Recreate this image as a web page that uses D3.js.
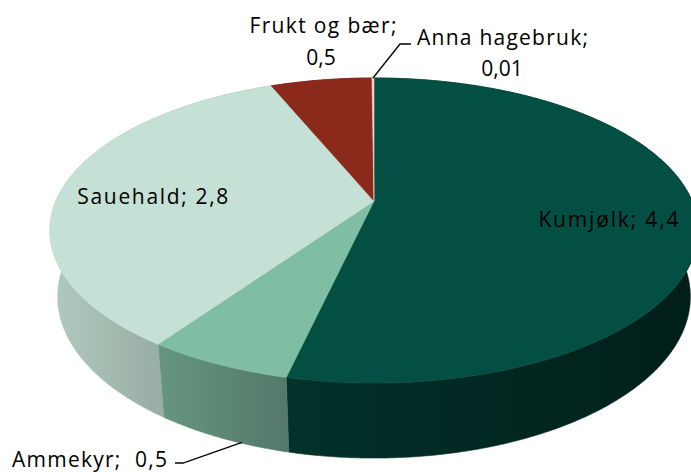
<!DOCTYPE html>
<html>
<head>
<meta charset="utf-8">
<script src="https://cdn.jsdelivr.net/npm/d3@7"></script>
<style>
body { margin: 0; background: #fff; }
text { font-family: "Open Sans", sans-serif; font-size: 21px; fill: #000; }
</style>
</head>
<body>
<div id="chart"></div>
<script>
// data
var categories = ["Kumjølk", "Ammekyr", "Sauehald", "Frukt og bær", "Anna hagebruk"];
var values = [4.4, 0.5, 2.8, 0.5, 0.01];
var valueText = ["4,4", "0,5", "2,8", "0,5", "0,01"];
var topColors = ["#034f43", "#7fbea2", "#c5e0d5", "#8b2a1b", "#e8d6cc"];
var sideColors = [["#02322a", "#011e19"], ["#67967f", "#52786a"], ["#b0c9be", "#98ada3"], ["#6a1f14", "#5a1a10"], ["#b8a89e", "#a89890"]];

var width = 691, height = 472;

// perspective camera for the 3d pie (distance = 1)
var cx = 374, cy = 201, F = 1459, R = 0.218, H = 0.0515;
var sinP = 0.4616, cosP = Math.sqrt(1 - sinP * sinP);

function project(theta, rho, y) {
    var X = R * rho * Math.sin(theta), Z = R * rho * Math.cos(theta);
    var yc = y * cosP + Z * sinP, zc = -y * sinP + Z * cosP;
    return [cx + F * X / (1 + zc), cy - F * yc / (1 + zc)];
}

function arcPoints(a0, a1, y) {
    var n = Math.max(2, Math.ceil((a1 - a0) / (Math.PI / 360)));
    return d3.range(n + 1).map(function(i) {
        return project(a0 + (a1 - a0) * i / n, 1, y);
    });
}

var pie = d3.pie().sort(null).startAngle(0).endAngle(2 * Math.PI);
var slices = pie(values);
var line = d3.line().curve(d3.curveLinear);

var svg = d3.select("#chart").append("svg")
    .attr("width", width)
    .attr("height", height);

var defs = svg.append("defs");

// side walls first, top faces drawn over them
slices.forEach(function(d, i) {
    var top = arcPoints(d.startAngle, d.endAngle, 0);
    var bottom = arcPoints(d.startAngle, d.endAngle, -H).reverse();
    var front = top.concat(bottom).filter(function(p, k) {
        var n = top.length;
        var idx = k < n ? k : (2 * n - 1 - k);
        var th = d.startAngle + (d.endAngle - d.startAngle) * idx / (n - 1);
        return Math.cos(th) < -0.19;
    });
    var xs = front.length ? d3.extent(front, function(p) { return p[0]; }) : [0, 1];
    var grad = defs.append("linearGradient")
        .attr("id", "side" + i)
        .attr("gradientUnits", "userSpaceOnUse")
        .attr("x1", xs[0]).attr("x2", xs[1])
        .attr("y1", 0).attr("y2", 0);
    grad.append("stop").attr("offset", 0).attr("stop-color", sideColors[i][0]);
    grad.append("stop").attr("offset", 1).attr("stop-color", sideColors[i][1]);

    svg.append("path")
        .attr("d", line(top.concat(bottom)) + "Z")
        .attr("fill", "url(#side" + i + ")")
        .attr("stroke", "url(#side" + i + ")")
        .attr("stroke-width", 0.6);
});

slices.forEach(function(d, i) {
    var pts = [project(0, 0, 0)].concat(arcPoints(d.startAngle, d.endAngle, 0));
    svg.append("path")
        .attr("d", line(pts) + "Z")
        .attr("fill", topColors[i])
        .attr("stroke", topColors[i])
        .attr("stroke-width", 0.6);
});

function mid(d) { return (d.startAngle + d.endAngle) / 2; }

// inside labels
[0, 2].forEach(function(i) {
    var p = project(mid(slices[i]), i == 0 ? 0.73 : 0.71, 0);
    svg.append("text")
        .attr("x", p[0]).attr("y", p[1] + 14)
        .attr("text-anchor", "middle")
        .attr("textLength", i == 0 ? 140 : 151)
        .attr("lengthAdjust", "spacing")
        .text(categories[i] + "; " + valueText[i]);
});

// Frukt og bær
svg.append("text").attr("x", 323).attr("y", 33).attr("text-anchor", "middle")
    .attr("textLength", 147).attr("lengthAdjust", "spacing")
    .text(categories[3] + ";");
svg.append("text").attr("x", 321).attr("y", 65).attr("text-anchor", "middle")
    .text(valueText[3]);

// Anna hagebruk with leader
var pa = project(mid(slices[4]), 1, 0);
svg.append("path")
    .attr("d", line([pa, [400, 44], [411, 44]]))
    .attr("fill", "none").attr("stroke", "#000").attr("stroke-width", 1.3);
svg.append("text").attr("x", 417).attr("y", 45)
    .attr("textLength", 171).attr("lengthAdjust", "spacing")
    .text(categories[4] + ";");
svg.append("text").attr("x", 502).attr("y", 76).attr("text-anchor", "middle")
    .text(valueText[4]);

// Ammekyr with leader
var pm = project(mid(slices[1]) - 0.06, 1, -H);
svg.append("path")
    .attr("d", line([[pm[0], pm[1] - 1], [183, 463], [175, 463]]))
    .attr("fill", "none").attr("stroke", "#000").attr("stroke-width", 1.3);
svg.append("text").attr("x", 12).attr("y", 467)
    .attr("textLength", 155).attr("lengthAdjust", "spacing")
    .style("white-space", "pre")
    .text(categories[1] + ";  " + valueText[1]);
</script>
</body>
</html>
